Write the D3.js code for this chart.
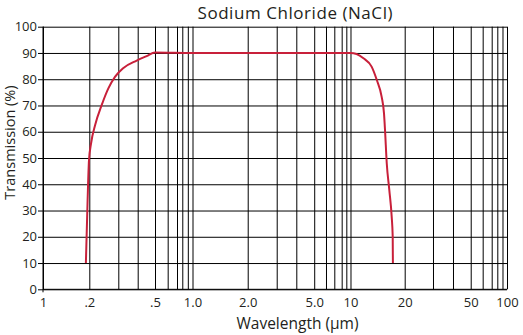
<!DOCTYPE html>
<html><head><meta charset="utf-8">
<script src="https://cdn.jsdelivr.net/npm/d3@7"></script>
<style>
body{margin:0;background:#fff}
svg{display:block}
text{font-family:"Open Sans","Noto Sans",sans-serif;fill:#231f20}
</style>
</head><body>
<svg id="c" width="523" height="335"></svg>
<script>
// ---- data ----
const title = "Sodium Chloride (NaCl)";
const xTitle = "Wavelength (µm)";
const yTitle = "Transmission (%)";
const wavelength   = [0.19, 0.195, 0.199, 0.205, 0.217, 0.238, 0.261, 0.287, 0.322, 0.394, 0.449, 0.5, 1, 2, 5, 10, 10.8, 11.8, 13.1, 14.0, 14.9, 15.35, 15.55, 15.9, 16.43, 16.94, 17.16, 17.2];
const transmission = [10, 34, 49, 55.6, 62.6, 70.2, 76.5, 81, 84.2, 87.1, 88.8, 90.2, 90, 90, 90, 90, 89.6, 88, 84.8, 79.7, 73.3, 67, 60.7, 48, 37.8, 27.6, 20, 10];
const xGrid = [0.1,0.2,0.3,0.4,0.5,0.6,0.7,0.8,0.9,1,2,3,4,5,6,7,8,9,10,20,30,40,50,60,70,80,90,100];
const xTickValues = [0.1, 0.2, 0.5, 1, 2, 5, 10, 20, 50, 100];
const xTickLabels = ["1", ".2", ".5", "1.0", "2.0", "5.0", "10", "20", "50", "100"];
const yTickValues = [0, 10, 20, 30, 40, 50, 60, 70, 80, 90, 100];

// ---- layout ----
const L = 43, R = 507, T = 26.7, B = 289.3;
// the reference's log graph paper is not evenly ruled: position of each grid line as fraction of plot width
const paperFrac = [0, .0998, .1623, .2041, .2414, .2687, .2888, .3002, .3121, .3222,
                   .4412, .5037, .5459, .5845, .6099, .6278, .6437, .6537, .6627,
                   .7795, .8405, .8836, .9218, .9476, .9670, .9791, .9903, 1];

const svg = d3.select("#c");
const x = d3.scaleLog().domain(xGrid).range(paperFrac.map(f => L + f * (R - L)));
const y = d3.scaleLinear().domain([0, 100]).range([B, T]);

// vertical grid
const gx = svg.append("g").attr("transform", `translate(0,${B})`)
  .call(d3.axisBottom(x).tickValues(xGrid).tickSize(-(B - T)).tickFormat(""));
gx.select(".domain").remove();
gx.selectAll(".tick line").attr("stroke", "#000").attr("stroke-width", 1);

// horizontal grid
const gy = svg.append("g").attr("transform", `translate(${L},0)`)
  .call(d3.axisLeft(y).tickValues(yTickValues).tickSize(-(R - L)).tickFormat(""));
gy.select(".domain").remove();
gy.selectAll(".tick line").attr("stroke", "#000").attr("stroke-width", 1);

// left axis with ticks and labels
const ay = svg.append("g").attr("transform", `translate(${L},0)`)
  .call(d3.axisLeft(y).tickValues(yTickValues).tickSize(5).tickPadding(1).tickSizeOuter(0));
ay.select(".domain").attr("stroke", "#000").attr("d", `M0,${T}V${B + 3}`);
ay.selectAll(".tick line").attr("stroke", "#000");
ay.selectAll(".tick text").attr("font-size", 13).attr("font-family", '"Open Sans",sans-serif').attr("fill", "#231f20");

// bottom axis with labels
const ax = svg.append("g").attr("transform", `translate(0,${B})`)
  .call(d3.axisBottom(x).tickValues(xTickValues).tickSize(0).tickPadding(6)
        .tickFormat((d, i) => xTickLabels[i]));
ax.select(".domain").attr("stroke", "#000").attr("d", `M${L},0H${R}`);
ax.selectAll(".tick text").attr("font-size", 13).attr("font-family", '"Open Sans",sans-serif').attr("fill", "#231f20")
  .attr("dy", "0.9em");

// curve
const pts = wavelength.map((w, i) => [w, transmission[i]]);
svg.append("path").datum(pts)
  .attr("fill", "none").attr("stroke", "#c8203a").attr("stroke-width", 2)
  .attr("stroke-linejoin", "round").attr("stroke-linecap", "butt")
  .attr("d", d3.line().x(d => x(d[0])).y(d => y(d[1])).curve(d3.curveMonotoneX));

// titles
svg.append("text").attr("x", 295).attr("y", 18.5).attr("text-anchor", "middle")
  .attr("font-size", 17).attr("textLength", 195).attr("lengthAdjust", "spacing").text(title);
svg.append("text").attr("x", 297.5).attr("y", 328.5).attr("text-anchor", "middle")
  .attr("font-size", 15.5).text(xTitle);
svg.append("text").attr("transform", `translate(14.5,142.5) rotate(-90)`)
  .attr("text-anchor", "middle").attr("font-size", 14.5).text(yTitle);
</script>
</body></html>
